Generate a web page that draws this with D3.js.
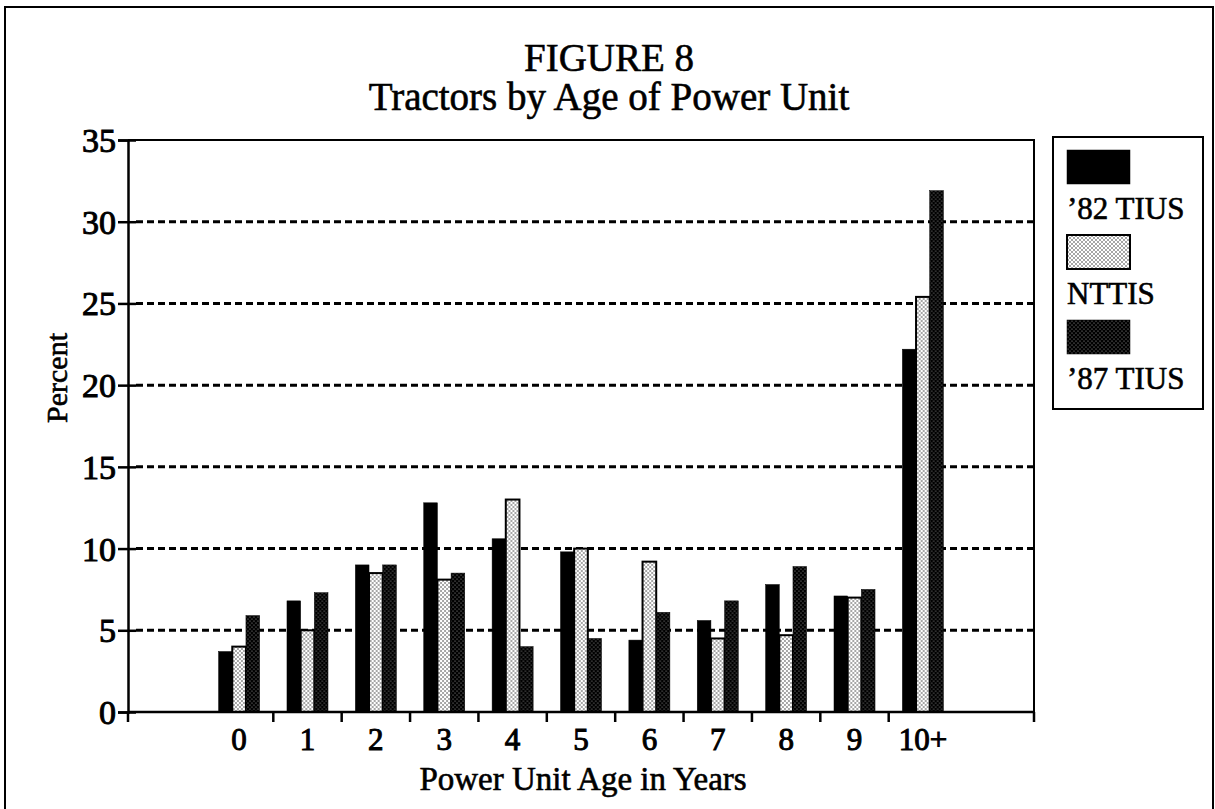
<!DOCTYPE html>
<head>
<meta charset="utf-8">
<title>Figure 8</title>
<style>
body { margin: 0; background: #fff; }
text { fill: #000; stroke: #000; stroke-width: 0.6px; font-family: "Liberation Serif", "Times New Roman", serif; }
.grid line { stroke: #000; stroke-width: 3px; stroke-dasharray: 7 4; }
</style>
</head>
<body>
<script src="https://cdn.jsdelivr.net/npm/d3@7/dist/d3.min.js"></script>
<script>

// data (percent of tractors)
var ages = ["0", "1", "2", "3", "4", "5", "6", "7", "8", "9", "10+"];
var series = ["’82 TIUS", "NTTIS", "’87 TIUS"];
var tius82 = [3.7, 6.8, 9.0, 12.8, 10.6, 9.8, 4.4, 5.6, 7.8, 7.1, 22.2];
var nttis  = [4.0, 5.0, 8.5, 8.1, 13.0, 10.0, 9.2, 4.5, 4.7, 7.0, 25.4];
var tius87 = [5.9, 7.3, 9.0, 8.5, 4.0, 4.5, 6.1, 6.8, 8.9, 7.5, 31.9];
var yTicks = [0, 5, 10, 15, 20, 25, 30, 35];

var width = 1215, height = 809;
var plot = {left: 128, top: 140, right: 1034, bottom: 712};

var svg = d3.select("body").append("svg")
    .attr("width", width)
    .attr("height", height);

// fill patterns
var defs = svg.append("defs");
var light = defs.append("pattern").attr("id", "light")
    .attr("width", 4).attr("height", 4).attr("patternUnits", "userSpaceOnUse");
light.append("rect").attr("width", 4).attr("height", 4).attr("fill", "#fff");
light.append("circle").attr("cx", 1).attr("cy", 1).attr("r", 0.75).attr("fill", "#222");
light.append("circle").attr("cx", 3).attr("cy", 3).attr("r", 0.75).attr("fill", "#222");

var dark = defs.append("pattern").attr("id", "dark")
    .attr("width", 4).attr("height", 4).attr("patternUnits", "userSpaceOnUse");
dark.append("rect").attr("width", 4).attr("height", 4).attr("fill", "#000");
dark.append("circle").attr("cx", 1).attr("cy", 1).attr("r", 0.6).attr("fill", "#aaa");
dark.append("circle").attr("cx", 3).attr("cy", 3).attr("r", 0.6).attr("fill", "#aaa");

var fills = ["#000", "url(#light)", "url(#dark)"];

// outer frame (open at the bottom)
svg.append("path")
    .attr("d", "M5,812V7H1213V812")
    .attr("fill", "none").attr("stroke", "#000").attr("stroke-width", 2);

// scales
var x = d3.scaleBand().domain(ages)
    .range([plot.left, plot.right]).paddingOuter(1.125).paddingInner(0);
var x1 = d3.scaleBand().domain(series)
    .range([0, x.bandwidth()]).paddingOuter(1);
var y = d3.scaleLinear().domain([0, 35]).range([plot.bottom, plot.top]);

// gridlines
svg.append("g").attr("class", "grid")
    .selectAll("line")
    .data(yTicks.filter(function(d) { return d > 0 && d < 35; }))
    .enter().append("line")
    .attr("x1", plot.left + 8).attr("x2", plot.right)
    .attr("y1", function(d) { return y(d); })
    .attr("y2", function(d) { return y(d); });

// bars
var rows = ages.map(function(a, i) {
  return {age: a, values: [tius82[i], nttis[i], tius87[i]]};
});

var group = svg.append("g").selectAll("g")
    .data(rows)
    .enter().append("g")
    .attr("transform", function(d) { return "translate(" + x(d.age) + ",0)"; });

group.selectAll("rect")
    .data(function(d) { return d.values.map(function(v, j) { return {s: series[j], v: v, j: j}; }); })
    .enter().append("rect")
    .attr("x", function(d) { return x1(d.s); })
    .attr("width", x1.bandwidth())
    .attr("y", function(d) { return y(d.v); })
    .attr("height", function(d) { return y(0) - y(d.v); })
    .attr("fill", function(d) { return fills[d.j]; })
    .attr("stroke", "#000")
    .attr("stroke-width", function(d) { return d.j == 1 ? 2 : 0.5; });

// plot frame top and right
svg.append("path")
    .attr("d", "M" + plot.left + "," + plot.top + "H" + plot.right + "V" + plot.bottom)
    .attr("fill", "none").attr("stroke", "#000").attr("stroke-width", 2);

// y axis
var yAxis = svg.append("g")
    .attr("transform", "translate(" + plot.left + ",0)")
    .call(d3.axisLeft(y).tickValues(yTicks).tickSize(10).tickPadding(2));
yAxis.select(".domain").attr("stroke-width", 2.5);
yAxis.selectAll(".tick line").attr("stroke-width", 2.5).attr("x2", 8).attr("x1", -10);
yAxis.selectAll(".tick text")
    .attr("font-family", "Liberation Serif")
    .attr("font-size", 34)
    .style("stroke-width", "1px")
    .attr("dy", "0.34em");

// x axis: line, ticks between categories, labels
var xAxis = svg.append("g");
xAxis.append("line")
    .attr("x1", plot.left).attr("x2", plot.right)
    .attr("y1", plot.bottom).attr("y2", plot.bottom)
    .attr("stroke", "#000").attr("stroke-width", 2.5);

var tickXs = [plot.left].concat(ages.slice(1).map(function(a) { return x(a); }), [plot.right]);
xAxis.selectAll(".xtick")
    .data(tickXs)
    .enter().append("line")
    .attr("class", "xtick")
    .attr("x1", function(d) { return d; }).attr("x2", function(d) { return d; })
    .attr("y1", plot.bottom).attr("y2", plot.bottom + 10)
    .attr("stroke", "#000").attr("stroke-width", 2.5);

xAxis.selectAll(".xlabel")
    .data(ages)
    .enter().append("text")
    .attr("class", "xlabel")
    .attr("x", function(d) { return x(d) + x.bandwidth() / 2; })
    .attr("y", 750)
    .attr("text-anchor", "middle")
    .attr("font-size", 31)
    .style("stroke-width", "1px")
    .text(function(d) { return d; });

// titles
svg.append("text")
    .attr("x", 609).attr("y", 71)
    .attr("text-anchor", "middle")
    .attr("font-size", 39)
    .text("FIGURE 8");
svg.append("text")
    .attr("x", 609).attr("y", 110)
    .attr("text-anchor", "middle")
    .attr("font-size", 39)
    .text("Tractors by Age of Power Unit");

svg.append("text")
    .attr("x", 583).attr("y", 790)
    .attr("text-anchor", "middle")
    .attr("font-size", 33)
    .text("Power Unit Age in Years");

svg.append("text")
    .attr("transform", "translate(67,378) rotate(-90)")
    .attr("text-anchor", "middle")
    .attr("font-size", 30)
    .text("Percent");

// legend
var legend = svg.append("g");
legend.append("rect")
    .attr("x", 1053).attr("y", 137)
    .attr("width", 150).attr("height", 272)
    .attr("fill", "#fff").attr("stroke", "#000").attr("stroke-width", 2);

var item = legend.selectAll(".item")
    .data(series)
    .enter().append("g")
    .attr("class", "item")
    .attr("transform", function(d, i) { return "translate(1067," + (150 + i * 85) + ")"; });

item.append("rect")
    .attr("width", 63).attr("height", 34)
    .attr("fill", function(d, i) { return fills[i]; })
    .attr("stroke", "#000")
    .attr("stroke-width", function(d, i) { return i == 1 ? 2 : 0.5; });

item.append("text")
    .attr("y", 69)
    .attr("font-size", 31)
    .text(function(d) { return d; });

</script>
</body>
</html>
